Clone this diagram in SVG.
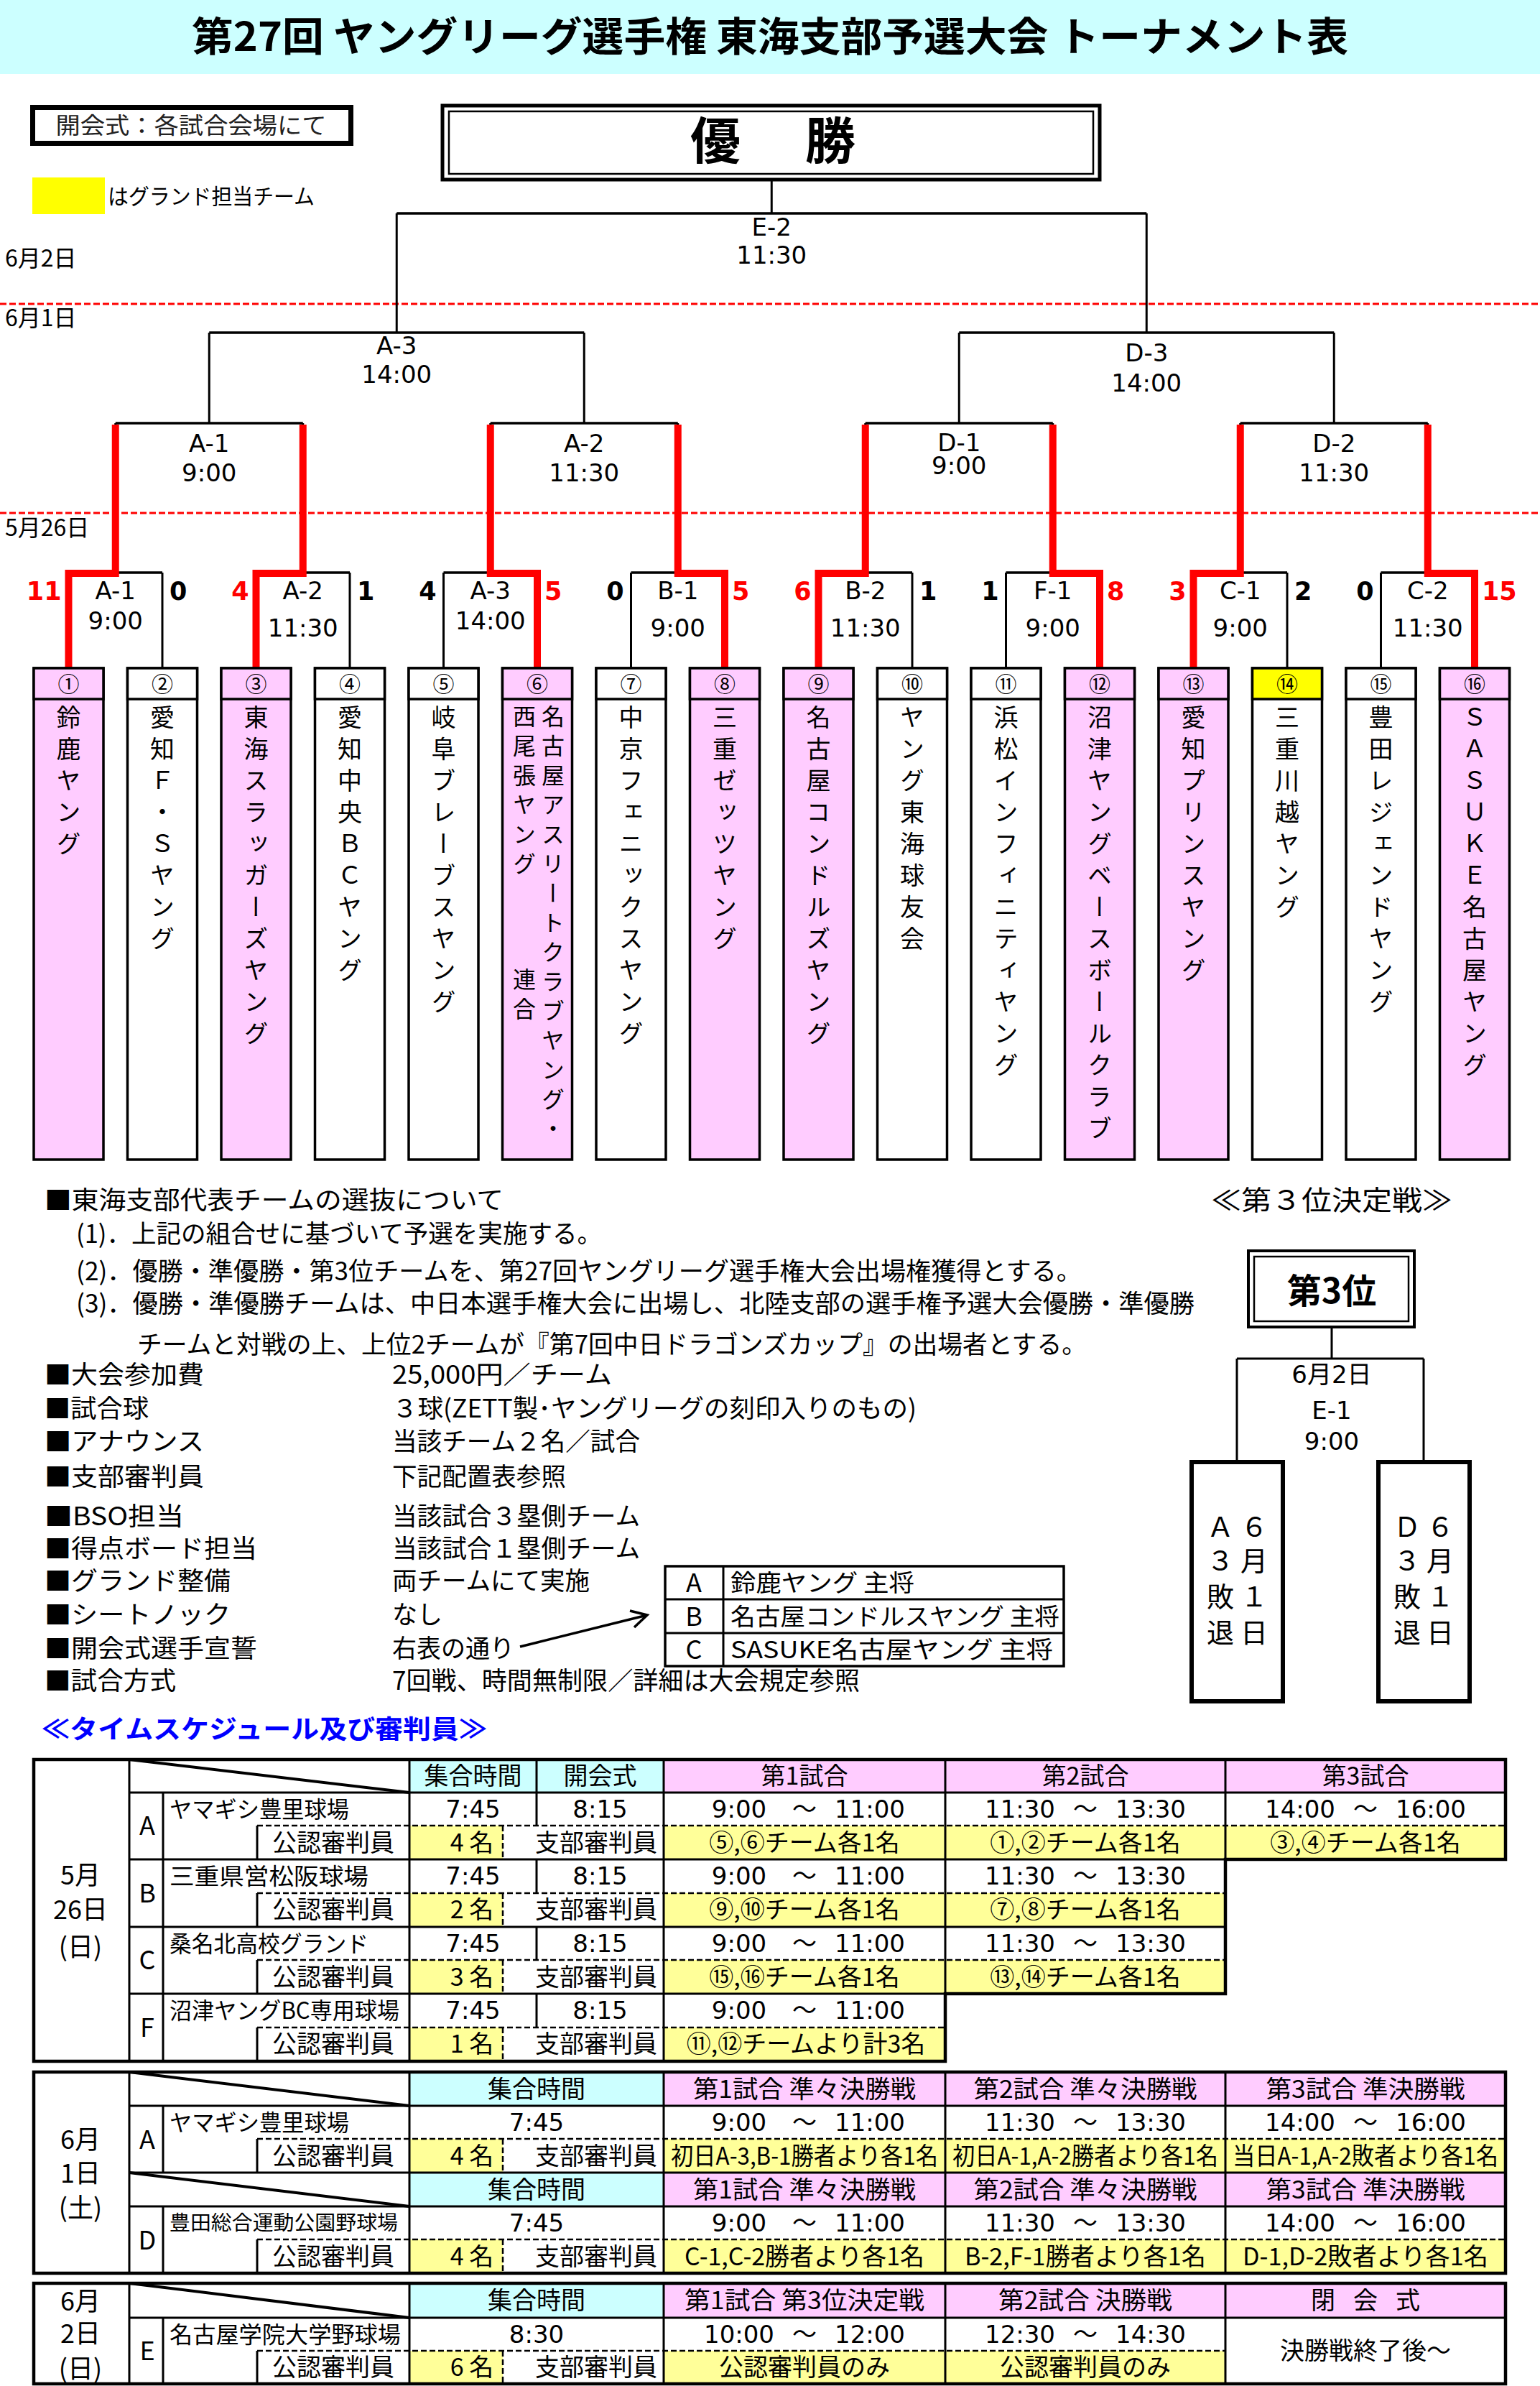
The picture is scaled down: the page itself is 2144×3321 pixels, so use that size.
<svg xmlns="http://www.w3.org/2000/svg" width="2144" height="3321" viewBox="0 0 2144 3321">
<style>
text{font-family:"Noto Sans CJK JP","Noto Sans",sans-serif;fill:#000}
.dv{font-family:"DejaVu Sans","Noto Sans CJK JP",sans-serif;font-size:34px;text-anchor:middle}
.sc{font-family:"DejaVu Sans","Noto Sans CJK JP",sans-serif;font-size:35px;font-weight:bold}
.r{fill:#FF0000}
.e{text-anchor:end}
.vt{writing-mode:vertical-rl;font-size:34px;letter-spacing:10px}
.vs{writing-mode:vertical-rl;font-size:32px;letter-spacing:9px}
.num{font-size:30px;text-anchor:middle}
.bl{stroke:#000;stroke-width:3;fill:none}
.bh{stroke:#000;stroke-width:3.5;fill:none}
.rd{stroke:#FF0000;stroke-width:10;fill:none;stroke-linejoin:miter}
.dash{stroke:#FF0000;stroke-width:3;stroke-dasharray:9 4;fill:none}
.tm{text-anchor:middle}
.tx{font-size:35px}
.tb{font-size:34px}
.dl{font-size:32px}
.tbl{stroke:#000;stroke-width:3;fill:none}
.tbo{stroke:#000;stroke-width:4.5;fill:none}
.td{stroke:#000;stroke-width:2.5;stroke-dasharray:8 4;fill:none}
.dg{stroke:#000;stroke-width:4;fill:none}
.tbox{stroke:#000;stroke-width:3.5}
.pk{fill:#FFCCFF}.cy{fill:#CCFFFF}.ly{fill:#FFFF99}.wh{fill:#FFFFFF}.yl{fill:#FFFF00}
.bx{font-size:38px;text-anchor:middle}
</style>

<g id="title">
<rect x="0" y="0" width="2144" height="103" class="cy"/>
<text x="1072" y="71" font-size="56" font-weight="bold" text-anchor="middle" textLength="1610" lengthAdjust="spacingAndGlyphs">第27回 ヤングリーグ選手権 東海支部予選大会 トーナメント表</text>
</g>

<g id="opening-note">
<rect x="45.5" y="149.5" width="443" height="50" fill="#fff" stroke="#000" stroke-width="7"/>
<text x="266" y="186" font-size="32" text-anchor="middle" style="fill:#222" textLength="377" lengthAdjust="spacingAndGlyphs">開会式：各試合会場にて</text>
</g>

<g id="legend">
<rect x="45" y="247" width="101" height="51" class="yl"/>
<text x="150" y="284" font-size="30" textLength="288" lengthAdjust="spacingAndGlyphs">はグランド担当チーム</text>
</g>

<g id="champion">
<rect x="616" y="147" width="915" height="103" fill="#fff" stroke="#000" stroke-width="5"/>
<rect x="625" y="155" width="897" height="87" fill="none" stroke="#000" stroke-width="2.5"/>
<text x="996" y="222" font-size="70" font-weight="bold" text-anchor="middle">優</text>
<text x="1156" y="222" font-size="70" font-weight="bold" text-anchor="middle">勝</text>
</g>

<g id="date-separators">
<path class="dash" d="M0 423 H2144 M0 714 H2144"/>
<text x="7" y="371" class="dl">6月2日</text>
<text x="7" y="454" class="dl">6月1日</text>
<text x="7" y="746" class="dl">5月26日</text>
</g>

<g id="connectors">
<path class="bl" d="M95.5 797V930 M226 797V930 M356.5 797V930 M487 797V930 M617.5 797V930 M748 797V930 M878.5 797V930 M1009 797V930 M1139.5 797V930 M1270 797V930 M1400.5 797V930 M1531 797V930 M1661.5 797V930 M1792 797V930 M1922.5 797V930 M2053 797V930
M160.75 589V797 M421.75 589V797 M682.75 589V797 M943.75 589V797 M1204.75 589V797 M1465.75 589V797 M1726.75 589V797 M1987.75 589V797
M291.25 463V589 M813.25 463V589 M1335.25 463V589 M1857.25 463V589
M552.25 297V463 M1596.25 297V463 M1074.25 250V297"/>
<path class="bh" d="M95.5 797H226 M356.5 797H487 M617.5 797H748 M878.5 797H1009 M1139.5 797H1270 M1400.5 797H1531 M1661.5 797H1792 M1922.5 797H2053
M160.75 589H421.75 M682.75 589H943.75 M1204.75 589H1465.75 M1726.75 589H1987.75
M291.25 463H813.25 M1335.25 463H1857.25 M552.25 297H1596.25"/>
<path class="rd" d="M95.5 931V798H160.75V591 M356.5 931V798H421.75V591 M748 931V798H682.75V591 M1009 931V798H943.75V591 M1139.5 931V798H1204.75V591 M1531 931V798H1465.75V591 M1661.5 931V798H1726.75V591 M2053 931V798H1987.75V591"/>
</g>

<g id="match-labels">
<text class="dv" x="1074.25" y="328">E-2</text><text class="dv" x="1074.25" y="367">11:30</text>
<text class="dv" x="552.25" y="493">A-3</text><text class="dv" x="552.25" y="533">14:00</text>
<text class="dv" x="1596.25" y="503">D-3</text><text class="dv" x="1596.25" y="545">14:00</text>
<text class="dv" x="291.25" y="629">A-1</text><text class="dv" x="291.25" y="670">9:00</text>
<text class="dv" x="813.25" y="629">A-2</text><text class="dv" x="813.25" y="670">11:30</text>
<text class="dv" x="1335.25" y="628">D-1</text><text class="dv" x="1335.25" y="660">9:00</text>
<text class="dv" x="1857.25" y="629">D-2</text><text class="dv" x="1857.25" y="670">11:30</text>
<text class="dv" x="160.75" y="834">A-1</text><text class="dv" x="160.75" y="876">9:00</text>
<text class="dv" x="421.75" y="834">A-2</text><text class="dv" x="421.75" y="886">11:30</text>
<text class="dv" x="682.75" y="834">A-3</text><text class="dv" x="682.75" y="876">14:00</text>
<text class="dv" x="943.75" y="834">B-1</text><text class="dv" x="943.75" y="886">9:00</text>
<text class="dv" x="1204.75" y="834">B-2</text><text class="dv" x="1204.75" y="886">11:30</text>
<text class="dv" x="1465.75" y="834">F-1</text><text class="dv" x="1465.75" y="886">9:00</text>
<text class="dv" x="1726.75" y="834">C-1</text><text class="dv" x="1726.75" y="886">9:00</text>
<text class="dv" x="1987.75" y="834">C-2</text><text class="dv" x="1987.75" y="886">11:30</text>
</g>

<g id="scores">
<text class="sc e r" x="85.5" y="835">11</text><text class="sc" x="236" y="835">0</text>
<text class="sc e r" x="346.5" y="835">4</text><text class="sc" x="497" y="835">1</text>
<text class="sc e" x="607.5" y="835">4</text><text class="sc r" x="758" y="835">5</text>
<text class="sc e" x="868.5" y="835">0</text><text class="sc r" x="1019" y="835">5</text>
<text class="sc e r" x="1129.5" y="835">6</text><text class="sc" x="1280" y="835">1</text>
<text class="sc e" x="1390.5" y="835">1</text><text class="sc r" x="1541" y="835">8</text>
<text class="sc e r" x="1651.5" y="835">3</text><text class="sc" x="1802" y="835">2</text>
<text class="sc e" x="1912.5" y="835">0</text><text class="sc r" x="2063" y="835">15</text>
</g>

<g id="team1"><rect x="47" y="930" width="97" height="684" class="tbox pk"/><rect x="47" y="930" width="97" height="43" class="tbox pk"/><text class="num" x="95.5" y="963">①</text><text class="vt" x="95.5" y="981">鈴鹿ヤング</text></g>
<g id="team2"><rect x="177.5" y="930" width="97" height="684" class="tbox wh"/><rect x="177.5" y="930" width="97" height="43" class="tbox wh"/><text class="num" x="226" y="963">②</text><text class="vt" x="226" y="981">愛知Ｆ・Ｓヤング</text></g>
<g id="team3"><rect x="308" y="930" width="97" height="684" class="tbox pk"/><rect x="308" y="930" width="97" height="43" class="tbox pk"/><text class="num" x="356.5" y="963">③</text><text class="vt" x="356.5" y="981">東海スラッガーズヤング</text></g>
<g id="team4"><rect x="438.5" y="930" width="97" height="684" class="tbox wh"/><rect x="438.5" y="930" width="97" height="43" class="tbox wh"/><text class="num" x="487" y="963">④</text><text class="vt" x="487" y="981">愛知中央ＢＣヤング</text></g>
<g id="team5"><rect x="569" y="930" width="97" height="684" class="tbox wh"/><rect x="569" y="930" width="97" height="43" class="tbox wh"/><text class="num" x="617.5" y="963">⑤</text><text class="vt" x="617.5" y="981">岐阜ブレーブスヤング</text></g>
<g id="team6"><rect x="699.5" y="930" width="97" height="684" class="tbox pk"/><rect x="699.5" y="930" width="97" height="43" class="tbox pk"/><text class="num" x="748" y="963">⑥</text><text class="vs" x="770" y="981">名古屋アスリートクラブヤング・</text><text class="vs" x="730" y="981">西尾張ヤング</text><text class="vs" x="730" y="1347">連合</text></g>
<g id="team7"><rect x="830" y="930" width="97" height="684" class="tbox wh"/><rect x="830" y="930" width="97" height="43" class="tbox wh"/><text class="num" x="878.5" y="963">⑦</text><text class="vt" x="878.5" y="981">中京フェニックスヤング</text></g>
<g id="team8"><rect x="960.5" y="930" width="97" height="684" class="tbox pk"/><rect x="960.5" y="930" width="97" height="43" class="tbox pk"/><text class="num" x="1009" y="963">⑧</text><text class="vt" x="1009" y="981">三重ゼッツヤング</text></g>
<g id="team9"><rect x="1091" y="930" width="97" height="684" class="tbox pk"/><rect x="1091" y="930" width="97" height="43" class="tbox pk"/><text class="num" x="1139.5" y="963">⑨</text><text class="vt" x="1139.5" y="981">名古屋コンドルズヤング</text></g>
<g id="team10"><rect x="1221.5" y="930" width="97" height="684" class="tbox wh"/><rect x="1221.5" y="930" width="97" height="43" class="tbox wh"/><text class="num" x="1270" y="963">⑩</text><text class="vt" x="1270" y="981">ヤング東海球友会</text></g>
<g id="team11"><rect x="1352" y="930" width="97" height="684" class="tbox wh"/><rect x="1352" y="930" width="97" height="43" class="tbox wh"/><text class="num" x="1400.5" y="963">⑪</text><text class="vt" x="1400.5" y="981">浜松インフィニティヤング</text></g>
<g id="team12"><rect x="1482.5" y="930" width="97" height="684" class="tbox pk"/><rect x="1482.5" y="930" width="97" height="43" class="tbox pk"/><text class="num" x="1531" y="963">⑫</text><text class="vt" x="1531" y="981">沼津ヤングベースボールクラブ</text></g>
<g id="team13"><rect x="1613" y="930" width="97" height="684" class="tbox pk"/><rect x="1613" y="930" width="97" height="43" class="tbox pk"/><text class="num" x="1661.5" y="963">⑬</text><text class="vt" x="1661.5" y="981">愛知プリンスヤング</text></g>
<g id="team14"><rect x="1743.5" y="930" width="97" height="684" class="tbox wh"/><rect x="1743.5" y="930" width="97" height="43" class="tbox yl"/><text class="num" x="1792" y="963">⑭</text><text class="vt" x="1792" y="981">三重川越ヤング</text></g>
<g id="team15"><rect x="1874" y="930" width="97" height="684" class="tbox wh"/><rect x="1874" y="930" width="97" height="43" class="tbox wh"/><text class="num" x="1922.5" y="963">⑮</text><text class="vt" x="1922.5" y="981">豊田レジェンドヤング</text></g>
<g id="team16"><rect x="2004.5" y="930" width="97" height="684" class="tbox pk"/><rect x="2004.5" y="930" width="97" height="43" class="tbox pk"/><text class="num" x="2053" y="963">⑯</text><text class="vt" x="2053" y="981">ＳＡＳＵＫＥ名古屋ヤング</text></g>

<g id="notes" class="tx">
<text x="62" y="1683" textLength="639" lengthAdjust="spacingAndGlyphs">■東海支部代表チームの選抜について</text>
<text x="106" y="1730" textLength="732" lengthAdjust="spacingAndGlyphs">(1)．上記の組合せに基づいて予選を実施する。</text>
<text x="106" y="1782" textLength="1400" lengthAdjust="spacingAndGlyphs">(2)．優勝・準優勝・第3位チームを、第27回ヤングリーグ選手権大会出場権獲得とする。</text>
<text x="106" y="1827" textLength="1557" lengthAdjust="spacingAndGlyphs">(3)．優勝・準優勝チームは、中日本選手権大会に出場し、北陸支部の選手権予選大会優勝・準優勝</text>
<text x="191" y="1884" textLength="1322" lengthAdjust="spacingAndGlyphs">チームと対戦の上、上位2チームが『第7回中日ドラゴンズカップ』の出場者とする。</text>
<text x="62" y="1926" textLength="222" lengthAdjust="spacingAndGlyphs">■大会参加費</text>
<text x="546" y="1926" textLength="306" lengthAdjust="spacingAndGlyphs">25,000円／チーム</text>
<text x="62" y="1973" textLength="145" lengthAdjust="spacingAndGlyphs">■試合球</text>
<text x="546" y="1973" textLength="730" lengthAdjust="spacingAndGlyphs">３球(ZETT製･ヤングリーグの刻印入りのもの)</text>
<text x="62" y="2019" textLength="222" lengthAdjust="spacingAndGlyphs">■アナウンス</text>
<text x="546" y="2019" textLength="345" lengthAdjust="spacingAndGlyphs">当該チーム２名／試合</text>
<text x="62" y="2068" textLength="222" lengthAdjust="spacingAndGlyphs">■支部審判員</text>
<text x="546" y="2068" textLength="242" lengthAdjust="spacingAndGlyphs">下記配置表参照</text>
<text x="62" y="2123" textLength="194" lengthAdjust="spacingAndGlyphs">■BSO担当</text>
<text x="546" y="2123" textLength="345" lengthAdjust="spacingAndGlyphs">当該試合３塁側チーム</text>
<text x="62" y="2168" textLength="296" lengthAdjust="spacingAndGlyphs">■得点ボード担当</text>
<text x="546" y="2168" textLength="345" lengthAdjust="spacingAndGlyphs">当該試合１塁側チーム</text>
<text x="62" y="2213" textLength="259" lengthAdjust="spacingAndGlyphs">■グランド整備</text>
<text x="546" y="2213" textLength="275" lengthAdjust="spacingAndGlyphs">両チームにて実施</text>
<text x="62" y="2260" textLength="259" lengthAdjust="spacingAndGlyphs">■シートノック</text>
<text x="546" y="2260">なし</text>
<text x="62" y="2307" textLength="296" lengthAdjust="spacingAndGlyphs">■開会式選手宣誓</text>
<text x="546" y="2307" textLength="170" lengthAdjust="spacingAndGlyphs">右表の通り</text>
<text x="62" y="2352" textLength="183" lengthAdjust="spacingAndGlyphs">■試合方式</text>
<text x="546" y="2352" textLength="651" lengthAdjust="spacingAndGlyphs">7回戦、時間無制限／詳細は大会規定参照</text>
</g>

<g id="oath-arrow">
<path d="M724 2292 L899 2248.5 M877 2242 L901 2248 L883 2265" fill="none" stroke="#000" stroke-width="3.5"/>
</g>

<g id="captains">
<rect x="926" y="2180" width="555" height="139" fill="#fff" stroke="#000" stroke-width="3.5"/>
<path d="M926 2226 H1481 M926 2273 H1481 M1007 2180 V2319" stroke="#000" stroke-width="3" fill="none"/>
<text x="966" y="2216" font-size="36" text-anchor="middle">A</text>
<text x="966" y="2263" font-size="36" text-anchor="middle">B</text>
<text x="966" y="2309" font-size="36" text-anchor="middle">C</text>
<text x="1017" y="2215" font-size="33" textLength="256" lengthAdjust="spacingAndGlyphs">鈴鹿ヤング 主将</text>
<text x="1017" y="2262" font-size="33" textLength="458" lengthAdjust="spacingAndGlyphs">名古屋コンドルスヤング 主将</text>
<text x="1017" y="2308" font-size="33" textLength="449" lengthAdjust="spacingAndGlyphs">SASUKE名古屋ヤング 主将</text>
</g>

<g id="third-place">
<text x="1686" y="1684" font-size="38" textLength="336" lengthAdjust="spacingAndGlyphs">≪第３位決定戦≫</text>
<rect x="1738" y="1741" width="231" height="106" fill="#fff" stroke="#000" stroke-width="4"/>
<rect x="1746" y="1749" width="215" height="90" fill="none" stroke="#000" stroke-width="2.5"/>
<text x="1854" y="1814" font-size="48" font-weight="bold" text-anchor="middle">第3位</text>
<path class="bl" d="M1854 1847 V1891 M1722 1891 H1982 M1722 1891 V2032 M1982 1891 V2032"/>
<text class="dv" x="1854" y="1925">6月2日</text>
<text class="dv" x="1854" y="1975">E-1</text>
<text class="dv" x="1854" y="2018">9:00</text>
</g>
<g id="loser-A3">
<rect x="1659" y="2035" width="127" height="333" fill="#fff" stroke="#000" stroke-width="6"/>
<text class="bx" x="1699" y="2139">Ａ</text><text class="bx" x="1699" y="2186">３</text><text class="bx" x="1699" y="2236">敗</text><text class="bx" x="1699" y="2286">退</text>
<text class="bx" x="1746" y="2139">６</text><text class="bx" x="1746" y="2186">月</text><text class="bx" x="1746" y="2236">１</text><text class="bx" x="1746" y="2286">日</text>
</g>
<g id="loser-D3">
<rect x="1919" y="2035" width="127" height="333" fill="#fff" stroke="#000" stroke-width="6"/>
<text class="bx" x="1959" y="2139">Ｄ</text><text class="bx" x="1959" y="2186">３</text><text class="bx" x="1959" y="2236">敗</text><text class="bx" x="1959" y="2286">退</text>
<text class="bx" x="2005" y="2139">６</text><text class="bx" x="2005" y="2186">月</text><text class="bx" x="2005" y="2236">１</text><text class="bx" x="2005" y="2286">日</text>
</g>

<text x="58" y="2420" font-size="36" font-weight="bold" style="fill:#0000FF" textLength="620" lengthAdjust="spacingAndGlyphs">≪タイムスケジュール及び審判員≫</text>

<g id="schedule-may26">
<rect x="570" y="2449" width="354" height="46" class="cy"/>
<rect x="924" y="2449" width="1172" height="46" class="pk"/>
<rect x="570" y="2541" width="130" height="47" class="ly"/><rect x="924" y="2541" width="1172" height="47" class="ly"/>
<rect x="570" y="2635" width="130" height="47" class="ly"/><rect x="924" y="2635" width="782" height="47" class="ly"/>
<rect x="570" y="2728" width="130" height="47" class="ly"/><rect x="924" y="2728" width="782" height="47" class="ly"/>
<rect x="570" y="2822" width="130" height="47" class="ly"/><rect x="924" y="2822" width="392" height="47" class="ly"/>
<path class="td" d="M358 2541 H2096 M358 2635 H1706 M358 2728 H1706 M358 2822 H1316 M700 2541 V2588 M700 2635 V2682 M700 2728 V2775 M700 2822 V2869"/>
<path class="tbl" d="M180 2449 V2869 M180 2495 H2096 M180 2588 H1706 M180 2682 H1706 M180 2775 H1316 M227 2495 V2869 M570 2449 V2869 M747 2449 V2541 M747 2588 V2635 M747 2682 V2728 M747 2775 V2822 M924 2449 V2869 M1316 2449 V2775 M1706 2449 V2588 M358 2541 V2588 M358 2635 V2682 M358 2728 V2775 M358 2822 V2869"/>
<path class="dg" d="M180 2449 L570 2495"/>
<path class="tbo" d="M47 2449 H2096 V2588 H1706 V2775 H1316 V2869 H47 Z"/>
<g class="tb">
<text class="tm" x="658.5" y="2484">集合時間</text><text class="tm" x="835.5" y="2484">開会式</text>
<text class="tm" x="1120" y="2484">第1試合</text><text class="tm" x="1511" y="2484">第2試合</text><text class="tm" x="1901" y="2484">第3試合</text>
<text x="236" y="2530" font-size="32" textLength="250" lengthAdjust="spacingAndGlyphs">ヤマギシ豊里球場</text>
<text x="236" y="2623" font-size="32" textLength="277" lengthAdjust="spacingAndGlyphs">三重県営松阪球場</text>
<text x="236" y="2717" font-size="32" textLength="277" lengthAdjust="spacingAndGlyphs">桑名北高校グランド</text>
<text x="236" y="2810" font-size="32" textLength="320" lengthAdjust="spacingAndGlyphs">沼津ヤングBC専用球場</text>
<text class="tm" x="464" y="2577">公認審判員</text><text class="tm" x="657" y="2577">4 名</text><text class="tm" x="830" y="2577">支部審判員</text>
<text class="tm" x="464" y="2670">公認審判員</text><text class="tm" x="657" y="2670">2 名</text><text class="tm" x="830" y="2670">支部審判員</text>
<text class="tm" x="464" y="2764">公認審判員</text><text class="tm" x="657" y="2764">3 名</text><text class="tm" x="830" y="2764">支部審判員</text>
<text class="tm" x="464" y="2857">公認審判員</text><text class="tm" x="657" y="2857">1 名</text><text class="tm" x="830" y="2857">支部審判員</text>
<text class="tm" x="1120" y="2577">⑤,⑥チーム各1名</text><text class="tm" x="1511" y="2577">①,②チーム各1名</text><text class="tm" x="1901" y="2577">③,④チーム各1名</text>
<text class="tm" x="1120" y="2670">⑨,⑩チーム各1名</text><text class="tm" x="1511" y="2670">⑦,⑧チーム各1名</text>
<text class="tm" x="1120" y="2764">⑮,⑯チーム各1名</text><text class="tm" x="1511" y="2764">⑬,⑭チーム各1名</text>
<text class="tm" x="1122" y="2857">⑪,⑫チームより計3名</text>
<text class="tm" x="1120" y="2530">～</text><text class="tm" x="1511" y="2530">～</text><text class="tm" x="1901" y="2530">～</text>
<text class="tm" x="1120" y="2623">～</text><text class="tm" x="1511" y="2623">～</text>
<text class="tm" x="1120" y="2717">～</text><text class="tm" x="1511" y="2717">～</text>
<text class="tm" x="1120" y="2810">～</text>
</g>
<g font-size="36">
<text class="tm" x="112" y="2623">5月</text><text class="tm" x="112" y="2671">26日</text><text class="tm" x="112" y="2723">(日)</text>
<text class="tm" x="205" y="2554">A</text><text class="tm" x="205" y="2648">B</text><text class="tm" x="205" y="2741">C</text><text class="tm" x="205" y="2835">F</text>
</g>
<text class="dv" x="658.5" y="2530">7:45</text><text class="dv" x="835.5" y="2530">8:15</text>
<text class="dv" x="1029" y="2530">9:00</text><text class="dv" x="1211" y="2530">11:00</text>
<text class="dv" x="1420" y="2530">11:30</text><text class="dv" x="1602" y="2530">13:30</text>
<text class="dv" x="1810" y="2530">14:00</text><text class="dv" x="1992" y="2530">16:00</text>
<text class="dv" x="658.5" y="2623">7:45</text><text class="dv" x="835.5" y="2623">8:15</text>
<text class="dv" x="1029" y="2623">9:00</text><text class="dv" x="1211" y="2623">11:00</text>
<text class="dv" x="1420" y="2623">11:30</text><text class="dv" x="1602" y="2623">13:30</text>
<text class="dv" x="658.5" y="2717">7:45</text><text class="dv" x="835.5" y="2717">8:15</text>
<text class="dv" x="1029" y="2717">9:00</text><text class="dv" x="1211" y="2717">11:00</text>
<text class="dv" x="1420" y="2717">11:30</text><text class="dv" x="1602" y="2717">13:30</text>
<text class="dv" x="658.5" y="2810">7:45</text><text class="dv" x="835.5" y="2810">8:15</text>
<text class="dv" x="1029" y="2810">9:00</text><text class="dv" x="1211" y="2810">11:00</text>
</g>

<g id="schedule-jun1">
<rect x="570" y="2884" width="354" height="47" class="cy"/><rect x="924" y="2884" width="1172" height="47" class="pk"/>
<rect x="570" y="3024" width="354" height="47" class="cy"/><rect x="924" y="3024" width="1172" height="47" class="pk"/>
<rect x="570" y="2977" width="130" height="47" class="ly"/><rect x="924" y="2977" width="1172" height="47" class="ly"/>
<rect x="570" y="3117" width="130" height="47" class="ly"/><rect x="924" y="3117" width="1172" height="47" class="ly"/>
<path class="td" d="M358 2977 H2096 M358 3117 H2096 M700 2977 V3024 M700 3117 V3164"/>
<path class="tbl" d="M180 2884 V3164 M180 2931 H2096 M180 3024 H2096 M180 3071 H2096 M227 2931 V3024 M227 3071 V3164 M570 2884 V3164 M924 2884 V3164 M1316 2884 V3164 M1706 2884 V3164 M358 2977 V3024 M358 3117 V3164"/>
<path class="dg" d="M180 2884 L570 2931 M180 3024 L570 3071"/>
<rect class="tbo" x="47" y="2884" width="2049" height="280"/>
<g class="tb">
<text class="tm" x="747" y="2920">集合時間</text>
<text class="tm" x="1120" y="2920" textLength="310" lengthAdjust="spacingAndGlyphs">第1試合 準々決勝戦</text>
<text class="tm" x="1511" y="2920" textLength="311" lengthAdjust="spacingAndGlyphs">第2試合 準々決勝戦</text>
<text class="tm" x="1901" y="2920" textLength="277" lengthAdjust="spacingAndGlyphs">第3試合 準決勝戦</text>
<text class="tm" x="747" y="3060">集合時間</text>
<text class="tm" x="1120" y="3060" textLength="310" lengthAdjust="spacingAndGlyphs">第1試合 準々決勝戦</text>
<text class="tm" x="1511" y="3060" textLength="311" lengthAdjust="spacingAndGlyphs">第2試合 準々決勝戦</text>
<text class="tm" x="1901" y="3060" textLength="277" lengthAdjust="spacingAndGlyphs">第3試合 準決勝戦</text>
<text x="236" y="2966" font-size="32" textLength="250" lengthAdjust="spacingAndGlyphs">ヤマギシ豊里球場</text>
<text x="236" y="3104" font-size="28" textLength="318" lengthAdjust="spacingAndGlyphs">豊田総合運動公園野球場</text>
<text class="tm" x="464" y="3013">公認審判員</text><text class="tm" x="657" y="3013">4 名</text><text class="tm" x="830" y="3013">支部審判員</text>
<text class="tm" x="464" y="3153">公認審判員</text><text class="tm" x="657" y="3153">4 名</text><text class="tm" x="830" y="3153">支部審判員</text>
<text class="tm" x="1120" y="3013" textLength="372" lengthAdjust="spacingAndGlyphs">初日A-3,B-1勝者より各1名</text>
<text class="tm" x="1511" y="3013" textLength="370" lengthAdjust="spacingAndGlyphs">初日A-1,A-2勝者より各1名</text>
<text class="tm" x="1901" y="3013" textLength="370" lengthAdjust="spacingAndGlyphs">当日A-1,A-2敗者より各1名</text>
<text class="tm" x="1120" y="3153" textLength="334" lengthAdjust="spacingAndGlyphs">C-1,C-2勝者より各1名</text>
<text class="tm" x="1511" y="3153" textLength="336" lengthAdjust="spacingAndGlyphs">B-2,F-1勝者より各1名</text>
<text class="tm" x="1901" y="3153" textLength="342" lengthAdjust="spacingAndGlyphs">D-1,D-2敗者より各1名</text>
<text class="tm" x="1120" y="2966">～</text><text class="tm" x="1511" y="2966">～</text><text class="tm" x="1901" y="2966">～</text>
<text class="tm" x="1120" y="3106">～</text><text class="tm" x="1511" y="3106">～</text><text class="tm" x="1901" y="3106">～</text>
</g>
<g font-size="36">
<text class="tm" x="112" y="2991">6月</text><text class="tm" x="112" y="3038">1日</text><text class="tm" x="112" y="3086">(土)</text>
<text class="tm" x="205" y="2991">A</text><text class="tm" x="205" y="3131">D</text>
</g>
<text class="dv" x="747" y="2966">7:45</text>
<text class="dv" x="1029" y="2966">9:00</text><text class="dv" x="1211" y="2966">11:00</text>
<text class="dv" x="1420" y="2966">11:30</text><text class="dv" x="1602" y="2966">13:30</text>
<text class="dv" x="1810" y="2966">14:00</text><text class="dv" x="1992" y="2966">16:00</text>
<text class="dv" x="747" y="3106">7:45</text>
<text class="dv" x="1029" y="3106">9:00</text><text class="dv" x="1211" y="3106">11:00</text>
<text class="dv" x="1420" y="3106">11:30</text><text class="dv" x="1602" y="3106">13:30</text>
<text class="dv" x="1810" y="3106">14:00</text><text class="dv" x="1992" y="3106">16:00</text>
</g>

<g id="schedule-jun2">
<rect x="570" y="3178" width="354" height="48" class="cy"/><rect x="924" y="3178" width="1172" height="48" class="pk"/>
<rect x="570" y="3272" width="130" height="46" class="ly"/><rect x="924" y="3272" width="782" height="46" class="ly"/>
<path class="td" d="M358 3272 H1706 M700 3272 V3318"/>
<path class="tbl" d="M180 3178 V3318 M180 3226 H2096 M227 3226 V3318 M570 3178 V3318 M924 3178 V3318 M1316 3178 V3318 M1706 3178 V3318 M358 3272 V3318"/>
<path class="dg" d="M180 3178 L570 3226"/>
<rect class="tbo" x="47" y="3178" width="2049" height="140"/>
<g class="tb">
<text class="tm" x="747" y="3214">集合時間</text>
<text class="tm" x="1120" y="3214" textLength="334" lengthAdjust="spacingAndGlyphs">第1試合 第3位決定戦</text>
<text class="tm" x="1511" y="3214" textLength="242" lengthAdjust="spacingAndGlyphs">第2試合 決勝戦</text>
<text class="tm" x="1901" y="3214" textLength="152" lengthAdjust="spacing">閉 会 式</text>
<text x="236" y="3261" font-size="32" textLength="322" lengthAdjust="spacingAndGlyphs">名古屋学院大学野球場</text>
<text class="tm" x="464" y="3307">公認審判員</text><text class="tm" x="657" y="3307">6 名</text><text class="tm" x="830" y="3307">支部審判員</text>
<text class="tm" x="1120" y="3307">公認審判員のみ</text><text class="tm" x="1511" y="3307">公認審判員のみ</text>
<text class="tm" x="1901" y="3284">決勝戦終了後～</text>
<text class="tm" x="1120" y="3261">～</text><text class="tm" x="1511" y="3261">～</text>
</g>
<g font-size="36">
<text class="tm" x="112" y="3216">6月</text><text class="tm" x="112" y="3261">2日</text><text class="tm" x="112" y="3310">(日)</text>
<text class="tm" x="205" y="3285">E</text>
</g>
<text class="dv" x="747" y="3261">8:30</text>
<text class="dv" x="1029" y="3261">10:00</text><text class="dv" x="1211" y="3261">12:00</text>
<text class="dv" x="1420" y="3261">12:30</text><text class="dv" x="1602" y="3261">14:30</text>
</g>
</svg>
